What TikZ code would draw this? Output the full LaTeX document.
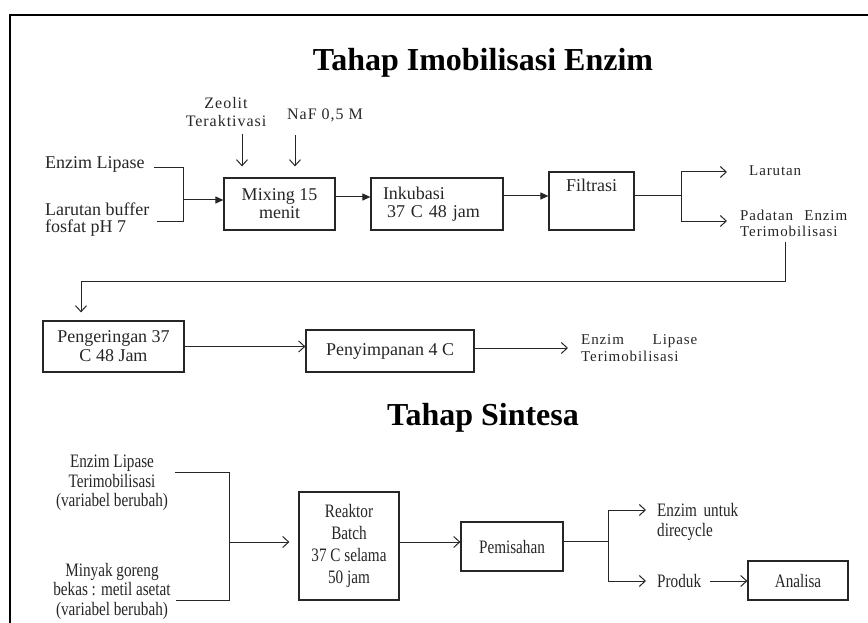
\documentclass[tikz,border=0pt]{standalone}
\usepackage{fontspec}
\setmainfont{Liberation Serif}
\newfontfamily\spacedfont[LetterSpace=6]{Liberation Serif}
\newfontfamily\slimfont[FakeStretch=0.8]{Liberation Serif}
\usepackage{xcolor}
\usetikzlibrary{arrows.meta,positioning,calc}
\definecolor{Ink}{HTML}{262626}

\begin{document}
\begin{tikzpicture}[x=1pt,y=-1pt,
  box/.style={draw=Ink,line width=1.2pt,inner sep=0pt,align=center,text=Ink,font=\fontsize{18}{18}\selectfont},
  sbox/.style={box,font=\slimfont\fontsize{19}{22}\selectfont},
  lbl/.style={inner sep=0pt,align=left,text=Ink,font=\fontsize{18}{17}\selectfont},
  tlbl/.style={lbl,font=\spacedfont\fontsize{15}{16}\selectfont},
  slbl/.style={lbl,font=\slimfont\fontsize{19}{19.5}\selectfont},
  ln/.style={color=Ink,line width=1pt},
  arr/.style={ln,-{Triangle[length=8pt,width=7pt]}},
  oarr/.style={ln,-{Straight Barb[length=6pt,width=11pt]}},
  head/.style={inner sep=0pt,font=\bfseries\fontsize{32}{36}\selectfont}]
\useasboundingbox (0,0) rectangle (868,623);
\draw[line width=2.5pt] (10,623) |- (868,15);

% imobilisasi
\node[head,anchor=base] (t1) at (483,71) {Tahap Imobilisasi Enzim};
\node[tlbl,align=center,font=\spacedfont\fontsize{16}{18}\selectfont] (zeo) at (226,112) {Zeolit\\Teraktivasi};
\node[tlbl,font=\spacedfont\fontsize{16}{18}\selectfont] (naf) at (325,115) {NaF 0,5 M};
\node[lbl,anchor=base west] (enz) at (45,168) {Enzim Lipase};
\node[lbl,anchor=west] (buf) at (45,220) {Larutan buffer\\fosfat pH 7};
\node[box,minimum width=111pt,minimum height=52pt] (mix) at (279.5,204) {Mixing 15\\menit};
\node[box,minimum width=132pt,minimum height=52pt,text width=108pt,align=left] (ink) at (437,204) {Inkubasi\\\hspace*{4pt}37 C 48 jam};
\node[box,minimum width=85pt,minimum height=58pt,text height=20pt,text depth=38pt] (fil) at (591.5,201) {Filtrasi};
\node[tlbl,anchor=west] (lar) at (749,171) {Larutan};
\node[tlbl,anchor=west] (pad) at (740,223) {\makebox[107pt][s]{Padatan Enzim}\\Terimobilisasi};
\coordinate (jin) at (183,200);
\coordinate (jfil) at (681,196);
\draw[oarr] ([xshift=16pt,yshift=-7pt]zeo.south) -- ([xshift=16pt,yshift=11pt]zeo.south |- mix.north);
\draw[oarr] ([xshift=-30pt,yshift=-13pt]naf.south) -- ([xshift=-30pt,yshift=11pt]naf.south |- mix.north);
\draw[ln] ([xshift=9pt]enz.base east) -| (jin);
\draw[ln] ([xshift=7pt,yshift=-1pt]buf.east) -| (jin);
\draw[arr] (jin) -- (jin -| mix.west);
\draw[arr] ([yshift=7pt]mix.east) -- ([yshift=7pt]ink.west);
\draw[arr] ([yshift=8pt]ink.east) -- ([yshift=8pt]ink.east -| fil.west);
\draw[ln] ([yshift=5pt]fil.east) -- (jfil);
\draw[oarr] (jfil) |- ([xshift=-22pt,yshift=-1pt]lar.west);
\draw[oarr] (jfil) |- ([xshift=-13pt,yshift=2pt]pad.west);

% pengeringan
\node[box,minimum width=141pt,minimum height=51pt,font=\fontsize{18}{19}\selectfont] (dry) at (113.5,346.5) {Pengeringan 37\\C 48 Jam};
\node[box,minimum width=168pt,minimum height=42pt] (store) at (390,351) {Penyimpanan 4 C};
\node[tlbl,anchor=west,font=\spacedfont\fontsize{15}{17}\selectfont] (out) at (581,348) {\makebox[116pt][s]{Enzim Lipase}\\Terimobilisasi};
\coordinate (bend) at (81,281);
\draw[oarr] ([xshift=-8.5pt,yshift=-6pt]pad.south) |- (bend) -- ([yshift=8pt]bend |- dry.north);
\draw[oarr] (dry.east) -- (dry.east -| store.west);
\draw[oarr] (store.east |- out.west) -- ([xshift=-13pt]out.west);

% sintesa
\node[head,anchor=base] (t2) at (483,425) {Tahap Sintesa};
\node[slbl,align=center] (lip) at (112,483) {Enzim Lipase\\Terimobilisasi\\(variabel berubah)};
\node[slbl,align=center] (oil) at (112,591) {Minyak goreng\\bekas : metil asetat\\(variabel berubah)};
\node[sbox,minimum width=100pt,minimum height=108pt] (rx) at (349,546) {Reaktor\\Batch\\37 C selama\\50 jam};
\node[sbox,minimum width=102pt,minimum height=49pt] (sep) at (512,546.5) {Pemisahan};
\node[slbl,anchor=west] (rec) at (657,522) {\makebox[81pt][s]{Enzim untuk}\\direcycle};
\node[slbl,anchor=west] (prod) at (657,581) {Produk};
\node[sbox,minimum width=100pt,minimum height=39pt] (ana) at (798,580.5) {Analisa};
\coordinate (jrx) at (229,542);
\coordinate (jsep) at (608,541);
\draw[ln] ([xshift=7pt,yshift=11pt]lip.east) -| (jrx);
\draw[ln] ([xshift=5pt,yshift=-9pt]oil.east) -| (jrx);
\draw[oarr] (jrx) -- ([xshift=-9pt]jrx -| rx.west);
\draw[oarr] ([yshift=4pt]rx.east) -- ([yshift=4pt]rx.east -| sep.west);
\draw[ln] ([yshift=5.5pt]sep.east) -- (jsep);
\draw[oarr] (jsep) |- ([xshift=-11pt,yshift=12pt]rec.west);
\draw[oarr] (jsep) |- ([xshift=-11pt]prod.west);
\draw[oarr] ([xshift=9pt]prod.east) -- (prod.east -| ana.west);
\end{tikzpicture}
\end{document}
